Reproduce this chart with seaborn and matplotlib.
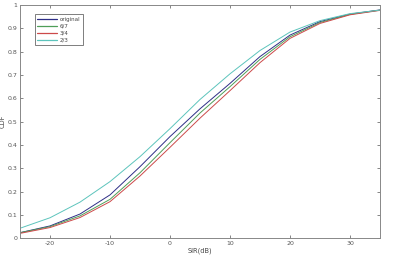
import matplotlib
matplotlib.use("Agg")
import matplotlib.pyplot as plt
import seaborn as sns
import pandas as pd

sir_db = [-25, -20, -15, -10, -5, 0, 5, 10, 15, 20, 25, 30, 35]
cdf_original = [0.024, 0.053, 0.104, 0.186, 0.307, 0.436, 0.555, 0.664, 0.779, 0.871, 0.929, 0.961, 0.979]
cdf_6_7 = [0.024, 0.050, 0.096, 0.167, 0.281, 0.410, 0.537, 0.650, 0.767, 0.864, 0.925, 0.960, 0.978]
cdf_3_4 = [0.021, 0.046, 0.089, 0.157, 0.267, 0.390, 0.515, 0.633, 0.753, 0.857, 0.921, 0.958, 0.977]
cdf_2_3 = [0.043, 0.088, 0.155, 0.243, 0.350, 0.470, 0.595, 0.705, 0.805, 0.884, 0.933, 0.963, 0.978]
series_names = ["original", "6/7", "3/4", "2/3"]
x_ticks = [-20, -10, 0, 10, 20, 30]
y_ticks = [0, 0.1, 0.2, 0.3, 0.4, 0.5, 0.6, 0.7, 0.8, 0.9, 1]
y_tick_labels = ["0", "0.1", "0.2", "0.3", "0.4", "0.5", "0.6", "0.7", "0.8", "0.9", "1"]

frames = []
for name, vals in zip(series_names, [cdf_original, cdf_6_7, cdf_3_4, cdf_2_3]):
    frames.append(pd.DataFrame({"SIR": sir_db, "CDF": vals, "series": name}))
df = pd.concat(frames, ignore_index=True)

sns.set_theme(style="white")
plt.rcParams["font.family"] = ["DejaVu Sans"]
plt.rcParams["axes.unicode_minus"] = False

palette = {"original": "#2e2e86", "6/7": "#4e9e58", "3/4": "#cc4a4a", "2/3": "#5cc4bc"}

fig = plt.figure(figsize=(4.0, 2.57), dpi=100)
ax = fig.add_axes([0.05, 0.0728, 0.90, 0.9077])
sns.lineplot(data=df, x="SIR", y="CDF", hue="series", hue_order=series_names,
             palette=palette, linewidth=0.7, ax=ax, legend=True)

ax.set_xlim(-25, 35)
ax.set_ylim(0, 1)
ax.set_xticks(x_ticks)
ax.set_yticks(y_ticks)
ax.set_yticklabels(y_tick_labels)
ax.tick_params(direction="in", length=2.5, width=0.5, labelsize=4.5,
               colors="#555555", top=True, right=True, bottom=True, left=True, pad=2)
for s in ax.spines.values():
    s.set_color("#888888")
    s.set_linewidth(0.7)
ax.set_xlabel("SIR(dB)", fontsize=4.8, color="#444444", labelpad=1)
ax.set_ylabel("CDF", fontsize=4.8, color="#444444", labelpad=1)

leg = ax.legend(loc="upper left", bbox_to_anchor=(0.033, 0.972), fontsize=4.0,
                frameon=True, fancybox=False, edgecolor="#444444", handlelength=3.6,
                handletextpad=0.5, borderpad=0.45, labelspacing=0.35, title=None)
leg.get_frame().set_linewidth(0.6)
for line in leg.get_lines():
    line.set_linewidth(0.9)
for t in leg.get_texts():
    t.set_color("#444444")

fig.savefig("out.png", dpi=100)
